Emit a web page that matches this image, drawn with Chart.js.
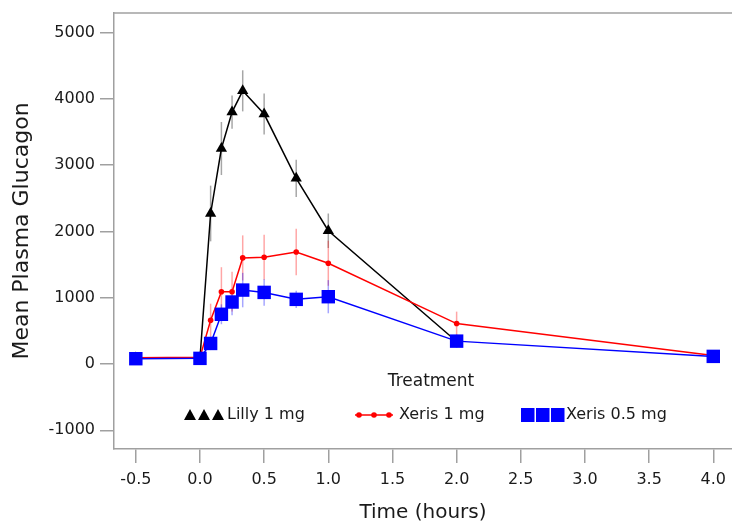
<!DOCTYPE html>
<html>
<head>
<meta charset="utf-8">
<script src="https://cdn.jsdelivr.net/npm/chart.js@4/dist/chart.umd.min.js"></script>
<style>
  html, body { margin: 0; padding: 0; background: #fff; overflow: hidden; }
  canvas { display: block; }
</style>
</head>
<body>
<canvas id="glucagonChart" width="732" height="525"></canvas>
<script>
// time points (hours) and mean plasma glucagon per treatment
const timeHours = [-0.5, 0, 0.083, 0.167, 0.25, 0.333, 0.5, 0.75, 1.0, 2.0, 4.0];
const lillyMean = [90, 90, 2270, 3250, 3800, 4120, 3770, 2800, 2010, 340, null];
const lillyErr = [0, 0, 420, 400, 250, 310, 310, 280, 260, 80, null];
const xeris1Mean = [95, 100, 660, 1090, 1090, 1600, 1610, 1690, 1520, 610, 130];
const xeris1Err = [0, 0, 250, 370, 300, 340, 340, 350, 340, 180, 40];
const xeris05Mean = [80, 85, 310, 750, 935, 1115, 1080, 975, 1015, 345, 115];
const xeris05Err = [0, 0, 100, 150, 200, 260, 200, 130, 250, 100, 40];

const xTicks = [-0.5, 0, 0.5, 1.0, 1.5, 2.0, 2.5, 3.0, 3.5, 4.0];
const yTicks = [-1000, 0, 1000, 2000, 3000, 4000, 5000];

const seriesNames = ['Lilly 1 mg', 'Xeris 1 mg', 'Xeris 0.5 mg'];

Chart.defaults.font.family = "'DejaVu Sans', sans-serif";
Chart.defaults.color = '#1a1a1a';

function toPoints(vals) {
    let pts = [];
    for (let i = 0; i < timeHours.length; i++) {
        if (vals[i] !== null) pts.push({ x: timeHours[i], y: vals[i] });
    }
    return pts;
}

const frameColor = '#a0a0a0';

// vertical error bars, drawn under the lines through the chart's scales
const errorBars = {
    id: 'errorBars',
    beforeDatasetsDraw(chart) {
        const ctx = chart.ctx;
        const xs = chart.scales.x, ys = chart.scales.y;
        const sets = [
            [lillyMean, lillyErr, 'rgba(0,0,0,0.35)'],
            [xeris1Mean, xeris1Err, 'rgba(255,0,0,0.35)'],
            [xeris05Mean, xeris05Err, 'rgba(0,0,255,0.35)']
        ];
        ctx.save();
        ctx.lineWidth = 1.5;
        sets.forEach(s => {
            ctx.strokeStyle = s[2];
            for (let i = 0; i < timeHours.length; i++) {
                if (s[0][i] === null || !s[1][i]) continue;
                const px = xs.getPixelForValue(timeHours[i]);
                ctx.beginPath();
                ctx.moveTo(px, ys.getPixelForValue(s[0][i] - s[1][i]));
                ctx.lineTo(px, ys.getPixelForValue(s[0][i] + s[1][i]));
                ctx.stroke();
            }
        });
        ctx.restore();
    }
};

// top frame line and the in-plot legend
const frameAndLegend = {
    id: 'frameAndLegend',
    afterDraw(chart) {
        const ctx = chart.ctx;
        const a = chart.chartArea;
        ctx.save();
        ctx.strokeStyle = frameColor;
        ctx.lineWidth = 1.5;
        ctx.beginPath();
        ctx.moveTo(a.left, a.top);
        ctx.lineTo(a.right, a.top);
        ctx.stroke();

        ctx.fillStyle = '#1a1a1a';
        ctx.textBaseline = 'middle';
        ctx.textAlign = 'center';
        ctx.font = "17px 'DejaVu Sans', sans-serif";
        ctx.fillText('Treatment', 431, 382);

        const ly = 415;
        ctx.textAlign = 'left';
        ctx.font = "16px 'DejaVu Sans', sans-serif";

        // Lilly: three triangles
        ctx.fillStyle = '#000';
        [190, 204, 218].forEach(cx => {
            ctx.beginPath();
            ctx.moveTo(cx, ly - 6);
            ctx.lineTo(cx + 6, ly + 5);
            ctx.lineTo(cx - 6, ly + 5);
            ctx.closePath();
            ctx.fill();
        });
        ctx.fillStyle = '#1a1a1a';
        ctx.fillText(seriesNames[0], 227, ly);

        // Xeris 1 mg: line with dots
        ctx.strokeStyle = '#ff0000';
        ctx.fillStyle = '#ff0000';
        ctx.lineWidth = 1.5;
        ctx.beginPath();
        ctx.moveTo(355, ly);
        ctx.lineTo(393, ly);
        ctx.stroke();
        [359, 374, 389].forEach(cx => {
            ctx.beginPath();
            ctx.arc(cx, ly, 2.8, 0, Math.PI * 2);
            ctx.fill();
        });
        ctx.fillStyle = '#1a1a1a';
        ctx.fillText(seriesNames[1], 399, ly);

        // Xeris 0.5 mg: three squares
        ctx.fillStyle = '#0000ff';
        [521, 536, 551].forEach(sx => {
            ctx.fillRect(sx, ly - 7, 13.5, 14);
        });
        ctx.fillStyle = '#1a1a1a';
        ctx.fillText(seriesNames[2], 566, ly);
        ctx.restore();
    }
};

const ctx = document.getElementById('glucagonChart').getContext('2d');
const chart = new Chart(ctx, {
    type: 'line',
    data: {
        datasets: [
            {
                label: seriesNames[2],
                data: toPoints(xeris05Mean),
                borderColor: '#0000ff',
                backgroundColor: '#0000ff',
                borderWidth: 1.5,
                pointStyle: 'rect',
                pointRadius: 9.5,
                pointBorderWidth: 0,
                order: 0
            },
            {
                label: seriesNames[1],
                data: toPoints(xeris1Mean),
                borderColor: '#ff0000',
                backgroundColor: '#ff0000',
                borderWidth: 1.5,
                pointStyle: 'circle',
                pointRadius: 2.8,
                pointBorderWidth: 0,
                order: 1
            },
            {
                label: seriesNames[0],
                data: toPoints(lillyMean),
                borderColor: '#000000',
                backgroundColor: '#000000',
                borderWidth: 1.5,
                pointStyle: 'triangle',
                pointRadius: 6.5,
                pointBorderWidth: 0,
                order: 2
            }
        ]
    },
    options: {
        responsive: false,
        animation: false,
        events: [],
        layout: { autoPadding: false, padding: { top: 13, right: 0, left: 0, bottom: 0 } },
        elements: { line: { tension: 0 } },
        plugins: {
            legend: { display: false },
            tooltip: { enabled: false }
        },
        scales: {
            x: {
                type: 'linear',
                min: -0.670,
                max: 4.146,
                afterBuildTicks: scale => { scale.ticks = xTicks.map(v => ({ value: v })); },
                afterFit: scale => {
                    scale.height = 76;
                    scale.paddingLeft = 0;
                    scale.paddingRight = 0;
                },
                ticks: {
                    padding: 7,
                    font: { size: 16 },
                    maxRotation: 0,
                    autoSkip: false,
                    callback: v => v.toFixed(1)
                },
                grid: {
                    drawOnChartArea: false,
                    drawTicks: true,
                    tickLength: 14,
                    color: frameColor,
                    lineWidth: 1.5
                },
                border: { display: true, color: frameColor, width: 1.5 },
                title: {
                    display: true,
                    text: 'Time (hours)',
                    font: { size: 20 },
                    padding: { top: 0, bottom: 0 }
                }
            },
            y: {
                type: 'linear',
                min: -1282,
                max: 5294,
                afterBuildTicks: scale => { scale.ticks = yTicks.map(v => ({ value: v })); },
                afterFit: scale => {
                    scale.width = 114;
                    scale.paddingTop = 0;
                    scale.paddingBottom = 0;
                },
                ticks: {
                    padding: 5,
                    font: { size: 16 },
                    autoSkip: false,
                    callback: v => String(v)
                },
                grid: {
                    drawOnChartArea: false,
                    drawTicks: true,
                    tickLength: 14,
                    color: frameColor,
                    lineWidth: 1.5
                },
                border: { display: true, color: frameColor, width: 1.5 },
                title: {
                    display: true,
                    text: 'Mean Plasma Glucagon',
                    font: { size: 22 },
                    padding: { top: 9, bottom: 0 }
                }
            }
        }
    },
    plugins: [errorBars, frameAndLegend]
});
</script>
</body>
</html>
